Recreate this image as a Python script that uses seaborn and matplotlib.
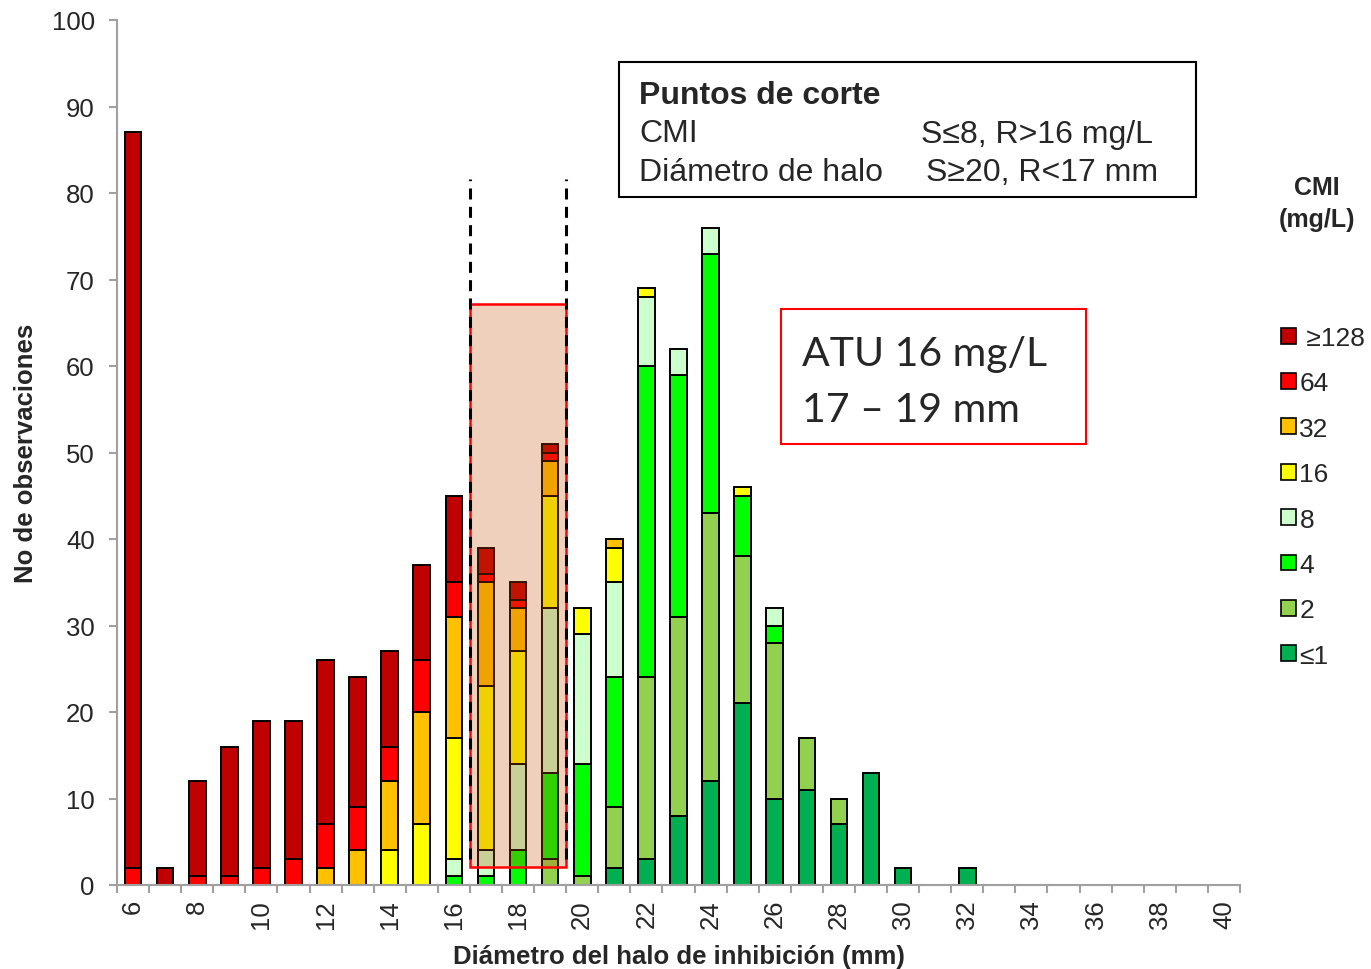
import numpy as np
import pandas as pd
import matplotlib
matplotlib.use("Agg")
import matplotlib.pyplot as plt
from matplotlib.patches import Rectangle, Patch
from matplotlib.ticker import FixedLocator
import seaborn as sns

# Inhibition-zone diameters (mm) and number of isolates per MIC class
diametro = list(range(6, 33))
cmi_ge128 = [85, 2, 11, 15, 17, 16, 19, 15, 11, 11, 10, 3, 2, 1, 0, 0, 0, 0, 0, 0, 0, 0, 0, 0, 0, 0, 0]
cmi_64    = [2, 0, 1, 1, 2, 3, 5, 5, 4, 6, 4, 1, 1, 1, 0, 0, 0, 0, 0, 0, 0, 0, 0, 0, 0, 0, 0]
cmi_32    = [0, 0, 0, 0, 0, 0, 2, 4, 8, 13, 14, 12, 5, 4, 0, 1, 0, 0, 0, 0, 0, 0, 0, 0, 0, 0, 0]
cmi_16    = [0, 0, 0, 0, 0, 0, 0, 0, 4, 7, 14, 19, 13, 13, 3, 4, 1, 0, 0, 1, 0, 0, 0, 0, 0, 0, 0]
cmi_8     = [0, 0, 0, 0, 0, 0, 0, 0, 0, 0, 2, 3, 10, 19, 15, 11, 8, 3, 3, 0, 2, 0, 0, 0, 0, 0, 0]
cmi_4     = [0, 0, 0, 0, 0, 0, 0, 0, 0, 0, 1, 1, 4, 10, 13, 15, 36, 28, 30, 7, 2, 0, 0, 0, 0, 0, 0]
cmi_2     = [0, 0, 0, 0, 0, 0, 0, 0, 0, 0, 0, 0, 0, 3, 1, 7, 21, 23, 31, 17, 18, 6, 3, 0, 0, 0, 0]
cmi_le1   = [0, 0, 0, 0, 0, 0, 0, 0, 0, 0, 0, 0, 0, 0, 0, 2, 3, 8, 12, 21, 10, 11, 7, 13, 2, 0, 2]

niveles = ["≥128", "64", "32", "16", "8", "4", "2", "≤1"]
etiquetas_leyenda = [" ≥128", "64", "32", "16", "8", "4", "2", "≤1"]
colores = ["#C00000", "#FF0000", "#FFC000", "#FFFF00", "#CCFFCC", "#00FF00", "#92D050", "#00B050"]
series = [cmi_ge128, cmi_64, cmi_32, cmi_16, cmi_8, cmi_4, cmi_2, cmi_le1]

ticks_x = list(range(6, 41, 2))
ticks_y = list(range(0, 101, 10))

# Long-format table for seaborn
filas = []
for nivel, valores in zip(niveles, series):
    for d, n in zip(diametro, valores):
        if n > 0:
            filas.append({"diametro": d, "CMI": nivel, "n": n})
df = pd.DataFrame(filas)

sns.set_theme(style="white")
plt.rcParams["font.family"] = ["Liberation Sans", "DejaVu Sans"]

W, H = 1371, 970
fig = plt.figure(figsize=(W / 100, H / 100), dpi=100)
ax = fig.add_axes([117 / W, 1 - 886 / H, (1240 - 117) / W, (886 - 21) / H])

sns.histplot(
    data=df, x="diametro", weights="n", hue="CMI", hue_order=niveles,
    palette=dict(zip(niveles, colores)), multiple="stack", discrete=True,
    shrink=0.52, edgecolor="black", linewidth=1.4, alpha=1, legend=False, ax=ax,
)
for p in list(ax.patches):
    if p.get_height() == 0:
        p.remove()

ax.set_xlim(5.5, 40.5)
ax.set_ylim(0, 100)

gris = "#A0A0A0"
for s in ["top", "right"]:
    ax.spines[s].set_visible(False)
for s in ["left", "bottom"]:
    ax.spines[s].set_color(gris)
    ax.spines[s].set_linewidth(1.5)

ax.set_yticks(ticks_y)
ax.tick_params(axis="y", direction="out", length=6, width=1.5, color=gris,
               labelsize=18.5, pad=10, left=True)
ax.set_xticks(ticks_x)
ax.set_xticklabels([str(t) for t in ticks_x], rotation=90)
ax.xaxis.set_minor_locator(FixedLocator(np.arange(5.5, 41, 1.0)))
ax.tick_params(axis="x", which="major", length=0, labelsize=18.5, pad=10, bottom=True)
ax.tick_params(axis="x", which="minor", direction="out", length=6, width=1.5,
               color=gris, bottom=True)
ax.grid(False)

ax.set_xlabel("Diámetro del halo de inhibición (mm)", fontsize=18.5, fontweight="bold", labelpad=12)
ax.set_ylabel("No de observaciones", fontsize=18.5, fontweight="bold", labelpad=10)

# Highlighted ATU zone (17-19 mm)
ax.add_patch(Rectangle((16.5, 2.1), 3.0, 65.1, facecolor="#C44C00", alpha=0.26,
                       edgecolor="none", zorder=5))
ax.add_patch(Rectangle((16.5, 2.1), 3.0, 65.1, facecolor="none", edgecolor="#FF0000",
                       linewidth=1.8, zorder=6))
for xv in (16.5, 19.5):
    ax.plot([xv, xv], [3.0, 81.6], color="black", linewidth=2.2,
            dashes=(3.6, 2.4), zorder=7)

def fx(px):
    return px / W

def fy(py):
    return 1 - py / H

# Breakpoints box
fig.patches.append(Rectangle((fx(619), fy(198)), fx(1196) - fx(619), fy(63) - fy(198),
                             transform=fig.transFigure, facecolor="white",
                             edgecolor="black", linewidth=1.5, zorder=10))
fs_box = 23
fig.text(fx(639), fy(104), "Puntos de corte", fontsize=fs_box, fontweight="bold",
         va="baseline", zorder=11)
fig.text(fx(639), fy(142.5), "CMI", fontsize=fs_box, va="baseline", zorder=11)
fig.text(fx(921), fy(142.5), "S≤8, R>16 mg/L", fontsize=fs_box, va="baseline", zorder=11)
fig.text(fx(639), fy(181), "Diámetro de halo", fontsize=fs_box, va="baseline", zorder=11)
fig.text(fx(926), fy(181), "S≥20, R<17 mm", fontsize=fs_box, va="baseline", zorder=11)

# ATU box
fig.patches.append(Rectangle((fx(781), fy(445)), fx(1086) - fx(781), fy(310) - fy(445),
                             transform=fig.transFigure, facecolor="white",
                             edgecolor="#FF0000", linewidth=1.5, zorder=10))
fig.text(fx(802), fy(366), "ATU 16 mg/L", fontsize=29.5, family="Lato",
         va="baseline", zorder=11)
fig.text(fx(802), fy(422), "17 – 19 mm", fontsize=29.5, family="Lato",
         va="baseline", zorder=11)

# Legend
fig.text(fx(1317), fy(188), "CMI", fontsize=18, fontweight="bold", ha="center", va="center")
fig.text(fx(1317), fy(220), "(mg/L)", fontsize=18, fontweight="bold", ha="center", va="center")
handles = [Patch(facecolor=c, edgecolor="black", linewidth=1.2) for c in colores]
fig.legend(handles, etiquetas_leyenda, loc="upper left",
           bbox_to_anchor=(fx(1281), fy(327)), frameon=False, fontsize=19,
           handlelength=0.55, handleheight=0.55, handletextpad=0.15,
           labelspacing=0.81, borderpad=0, borderaxespad=0)

fig.savefig("out.png", dpi=100)
